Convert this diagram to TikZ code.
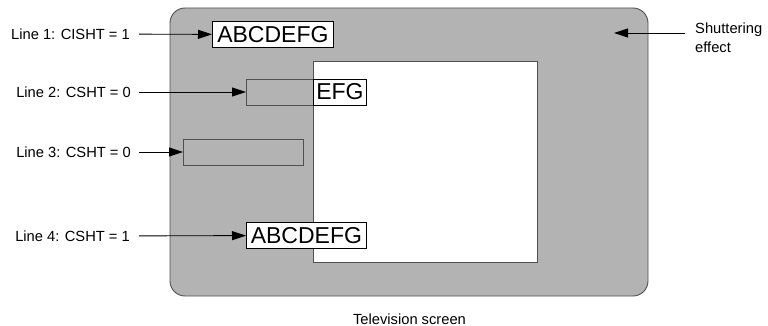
\documentclass[tikz,border=0pt]{standalone}
\usepackage{fontspec}
\setmainfont{Liberation Sans}
\definecolor{mScreen}{RGB}{179,179,179}
\definecolor{mEdge}{RGB}{80,80,80}
\usetikzlibrary{arrows.meta,positioning}

\begin{document}
\begin{tikzpicture}[x=1pt,y=-1pt,
    lbl/.style={font=\fontsize{14.7}{19}\selectfont, inner sep=0pt},
    arr/.style={-{Triangle[length=14pt,width=9pt]}, line width=0.9pt},
    txtbox/.style={draw=black, fill=white, line width=0.8pt, inner sep=0pt,
      minimum height=26pt, font=\fontsize{23}{23}\selectfont},
    ghost/.style={draw=mEdge, line width=0.8pt, inner sep=0pt, minimum height=26pt}]
        \useasboundingbox (0,0) rectangle (768,326);
        % screen and visible picture area
        \draw[mEdge, fill=mScreen, line width=0.9pt, rounded corners=15pt] (170,8) rectangle (648,296);
        \draw[mEdge, fill=white, line width=0.9pt] (313,61) rectangle (537,262);
        % text rows
        \node[txtbox, minimum width=121pt, anchor=west] (row1) at (212,34.5) {ABCDEFG};
        \node[ghost, minimum width=120pt, anchor=west] (row2) at (246,92) {};
        \node[txtbox, minimum width=53pt, anchor=west] (row2v) at (313,92) {EFG};
        \node[ghost, minimum width=120pt, anchor=west] (row3) at (183,152) {};
        \node[txtbox, minimum width=120pt, anchor=west] (row4) at (246,235.5) {ABCDEFG};
        % labels
        \node[lbl, anchor=east] (lab1) at (130,34) {Line 1: CISHT = 1};
        \node[lbl, anchor=east] (lab2) at (131,92) {Line 2: CSHT = 0};
        \node[lbl, anchor=east] (lab3) at (131,152) {Line 3: CSHT = 0};
        \node[lbl, anchor=east] (lab4) at (130,236) {Line 4: CSHT = 1};
        \node[lbl, align=left, anchor=north west] (shut) at (695,23) {Shuttering\\effect};
        \node[lbl] (tv) at (409.5,319) {Television screen};
        \coordinate (shutend) at (614,33);
        % connectors
        \draw[arr, shorten <=9pt] (lab1) -- (row1);
        \draw[arr, shorten <=8pt] (lab2) -- (row2);
        \draw[arr, shorten <=8pt] (lab3) -- (row3);
        \draw[arr, shorten <=9pt] (lab4) -- (row4);
        \draw[arr, shorten <=10pt] (shut.west |- shutend) -- (shutend);
      \end{tikzpicture}
\end{document}
